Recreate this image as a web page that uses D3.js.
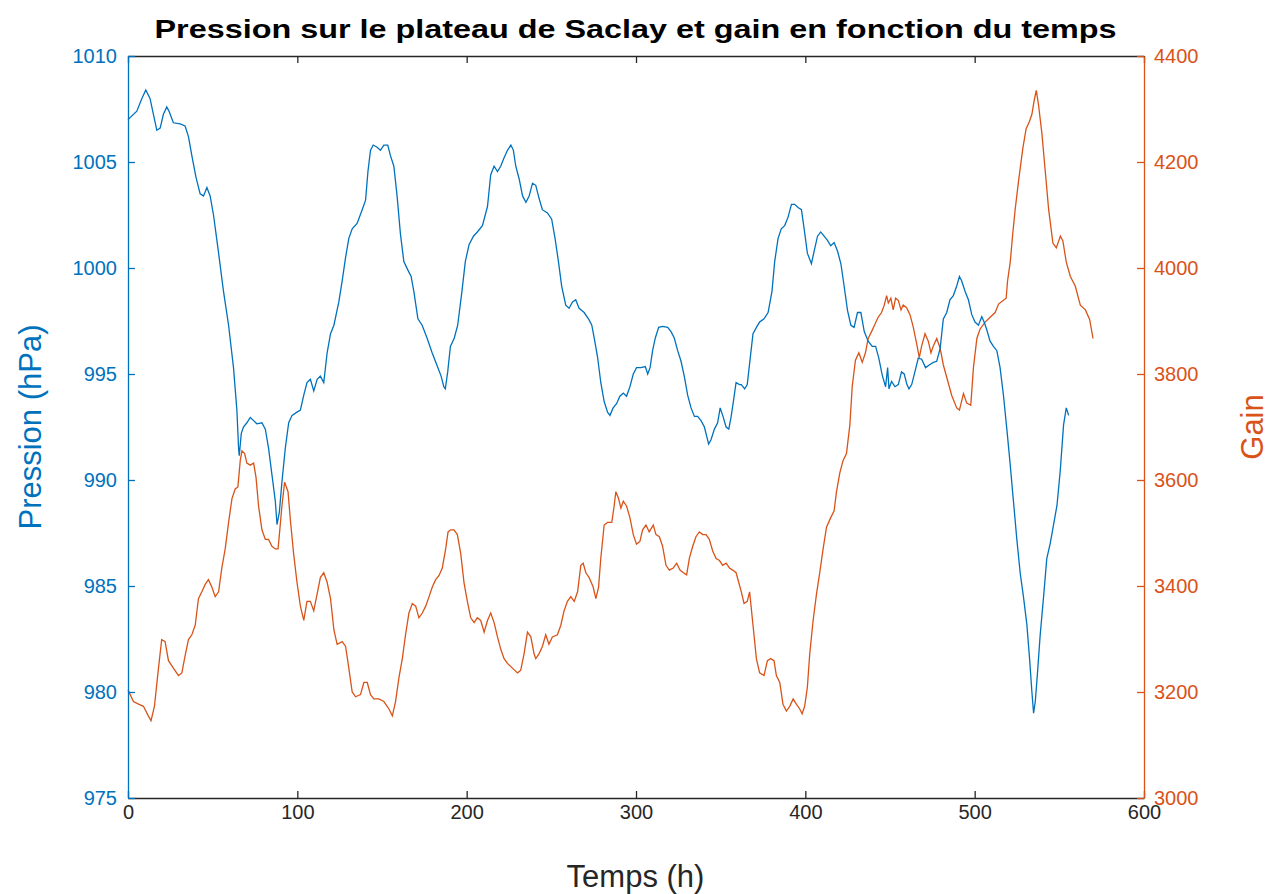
<!DOCTYPE html>
<html>
<head>
<meta charset="utf-8">
<script src="https://cdn.jsdelivr.net/npm/d3@7"></script>
<style>
  body { margin: 0; background: #fff; }
  text { font-family: "Liberation Sans", Arial, Helvetica, sans-serif; }
</style>
</head>
<body>
<div id="container"></div>
<script>
/* CONSTANTS AND GLOBALS */
const width = 1271,
  height = 894,
  margin = { top: 56, bottom: 96, left: 128, right: 128 };

const blue = "#0072BD",
  orange = "#D95319",
  dark = "#262626";

/* DATA */
const heuresTicks = [0, 100, 200, 300, 400, 500, 600];
const pressionTicks = [975, 980, 985, 990, 995, 1000, 1005, 1010];
const gainTicks = [3000, 3200, 3400, 3600, 3800, 4000, 4200, 4400];

// [temps (h), pression (hPa)]
const pression = [
  [0,1007.0],[5.2,1007.4],[8.2,1008.0],[10.5,1008.4],[13,1008.0],[17,1006.5],[19,1006.6],[20.9,1007.25],
  [22.9,1007.6],[24.2,1007.4],[26.8,1006.85],[30.8,1006.8],[33.7,1006.7],[35.7,1006.2],[37.7,1005.3],
  [40.1,1004.3],[42.6,1003.5],[44.6,1003.4],[46.6,1003.8],[48.5,1003.4],[50.5,1002.5],[53.5,1000.7],
  [56.4,998.9],[59.4,997.3],[62.3,995.3],[64.3,993.3],[65.3,991.5],[65.7,991.15],[66.9,992.2],[68.2,992.5],
  [70.2,992.7],[72.2,992.95],[74.2,992.8],[76.1,992.65],[79.1,992.7],[81.1,992.4],[83,991.5],[85,990.25],
  [87,989.0],[88,987.9],[89.4,988.5],[90.9,989.9],[92.9,991.5],[94.9,992.7],[96.9,993.05],[99.8,993.2],
  [101.8,993.3],[103.8,994.0],[105.7,994.6],[107.7,994.75],[109.7,994.2],[111.7,994.75],[113.6,994.9],
  [115.6,994.6],[117.6,996.0],
  [119.6,996.9],[121.6,997.3],[124.5,998.4],[126.5,999.4],[128.5,1000.5],[130.4,1001.4],[132.4,1001.85],
  [135.3,1002.1],[138.3,1002.75],[140.3,1003.2],[141.7,1004.55],[143.2,1005.55],[144.8,1005.8],[147.1,1005.7],
  [149.1,1005.55],[151.1,1005.8],[153.4,1005.8],[155,1005.3],[157,1004.8],[158.9,1003.4],[160.9,1001.6],
  [162.9,1000.3],[165.3,999.9],[167.2,999.6],[168.8,998.9],[171.2,997.6],[173.7,997.3],[176.6,996.7],
  [179.6,996.0],[182.5,995.4],[184.9,994.9],[186.5,994.4],[187.4,994.3],[188.8,995.1],[190.4,996.3],
  [192.7,996.7],[194.7,997.3],[197.2,998.9],[199.2,1000.3],[201.4,1001.1],[204,1001.5],[206.3,1001.7],
  [209.3,1002.0],[212.3,1002.9],[214.2,1004.4],[216.2,1004.8],[218.2,1004.55],[220.1,1004.8],[222.1,1005.2],
  [224.1,1005.55],[226.1,1005.8],[227.6,1005.55],[229,1004.8],[231,1004.2],[233,1003.4],[235,1003.1],
  [236.9,1003.4],[238.9,1004.0],
  [240.8,1003.9],[242.7,1003.3],[244.7,1002.75],[247.7,1002.6],[250.2,1002.3],[252.2,1001.4],[254.2,1000.3],
  [256.1,999.15],[258.5,998.25],[260.5,998.1],[262.5,998.4],[264.4,998.5],[266.4,998.1],[269.4,997.9],
  [272.3,997.55],[273.9,997.3],[275.3,996.7],[277.3,995.8],[279.2,994.6],[281.2,993.7],[283.2,993.2],
  [284.6,993.05],[286.5,993.4],[288.5,993.6],[290.5,993.95],[292.5,994.1],[294.4,993.95],[296.4,994.4],
  [298.4,995.0],[300.3,995.3],[302.9,995.3],[305.5,995.35],[306.9,995.0],[308.3,995.3],[309.8,996.1],
  [311.4,996.7],[313.4,997.2],[315.7,997.25],[318.7,997.2],[320.7,997.0],[322.6,996.7],[324.6,996.1],
  [326.6,995.6],[328.5,994.9],[330.5,994.0],[332.5,993.4],[334.5,993.0],[336.4,993.0],[338.4,992.8],
  [340.4,992.5],[341.8,992.05],[342.9,991.7],[344.3,991.9],[346.3,992.4],[348.2,992.7],[349.7,993.4],
  [351.2,993.05],[353.2,992.5],[354.8,992.4],[356.2,993.0],[357.5,993.7],[359.1,994.6],[361.1,994.5],
  [362.2,994.5],[364.2,994.3],[365.7,994.5],[367.1,995.5],[369.1,996.9],[371.1,997.2],[373,997.45],
  [375.6,997.6],[378,997.9],[380.3,998.9],[381.9,1000.3],[383.9,1001.4],[385.8,1001.85],[387.8,1002.0],
  [389.8,1002.4],[391.8,1003.0],[393.7,1003.0],[395.7,1002.85],[397.7,1002.75],[399.3,1001.85],[401.2,1000.7],
  [403.6,1000.2],[405.2,1000.8],[407.2,1001.5],[409.1,1001.7],[411.1,1001.5],[413.1,1001.3],[415,1001.05],
  [417,1001.2],[419,1000.8],[421,1000.2],[422.9,999.15],[424.9,998.0],[426.9,997.3],[428.8,997.2],
  [430.8,997.9],[432.8,997.9],[434.8,997.0],[437.1,996.55],[439.5,996.3],[441.5,996.3],[443.4,995.75],
  [445.4,994.95],[447.4,994.4],[448.6,995.3],[449.4,994.3],[450.9,994.65],[452.9,994.4],[454.9,994.5],
  [456.8,995.1],[458.4,995.0],[460,994.5],[461.2,994.3],[462.8,994.5],[464.7,995.1],[466.7,995.75],
  [468.7,995.7],[471,995.3],[473.6,995.45],[475.6,995.55],[477.6,995.6],[479.6,996.2],[481.5,997.6],
  [483.5,997.9],[485.4,998.5],[487.4,998.7],[489.4,999.15],[491,999.6],[492.3,999.4],[494.3,998.9],
  [496.3,998.5],[498.3,997.8],[500.2,997.45],[502.2,997.3],[504.2,997.7],[505.6,997.45],[507.1,997.1],
  [509.1,996.55],[511.1,996.3],[513.1,996.1],[515,995.3],[517,994.0],[519,992.4],[520.9,990.8],
  [522.9,989.0],[524.9,987.2],[526.9,985.6],[528.8,984.5],[530.8,983.2],[532.4,981.6],[533.8,980.0],
  [534.8,979.0],[535.8,979.55],[537.1,980.9],[538.7,982.7],[540.7,984.5],[542.6,986.3],[544.6,987.0],
  [546.6,987.9],[548.6,988.8],[550.5,990.4],[552.5,992.6],[554.1,993.4],[555.5,993.05]
];

// [temps (h), gain]
const gain = [
  [0,3204],[3.2,3182],[6.2,3177],[9.1,3173],[12,3155],[13.6,3146],[15.6,3173],[18,3245],[19.9,3299],
  [21.9,3295],[23.9,3259],[26.8,3245],[29.8,3231],[31.8,3236],[33.7,3268],[35.7,3299],[37.7,3308],
  [39.7,3326],[41.6,3376],[43.6,3389],[45.6,3403],[47.5,3412],[49.5,3398],[51.5,3380],[53.5,3389],
  [55.4,3434],[57.4,3470],[59.4,3520],[61.4,3565],[63.3,3583],[64.9,3587],[66.3,3637],[67.3,3655],
  [68.9,3650],[70.2,3632],[72.2,3628],[74.2,3632],[75.6,3605],[77.1,3551],[79.1,3506],[81.1,3488],
  [83,3488],[85,3475],[87,3470],[88.6,3470],[89.4,3497],[90.9,3551],[92.5,3596],[94.5,3578],[95.9,3524],
  [97.8,3461],[99.8,3407],[101.8,3362],[103.8,3335],[105.7,3371],[107.7,3371],[109.7,3353],[111.7,3385],
  [113.6,3416],[115.6,3425],[117.6,3407],
  [119.6,3376],[121.6,3317],[123.5,3290],[126.5,3295],[128.5,3286],[130.4,3245],[132.4,3200],[134.4,3191],
  [137.3,3195],[139.3,3218],[141.3,3218],[143.2,3195],[145.2,3187],[148.2,3187],[151.1,3182],[154.1,3168],
  [156.1,3155],[158,3182],[160,3227],[162,3263],[163.9,3308],[165.9,3349],[167.9,3367],[169.9,3362],
  [171.8,3340],[173.8,3349],[175.8,3362],[177.8,3380],[179.7,3398],[181.7,3412],[183.7,3420],[185.6,3434],
  [187.6,3470],[189,3502],[190.6,3506],[192.5,3506],[194.5,3497],[196.5,3461],[198.4,3407],[200.4,3371],
  [202.4,3340],[204.4,3331],[206.3,3340],[208.3,3335],[210.3,3313],[212.3,3335],[214.2,3349],[216.2,3331],
  [218.2,3304],[220.1,3281],[222.1,3263],[224.1,3254],[227,3245],[230,3236],[231.9,3241],[233.9,3272],
  [235.9,3313],[237.9,3304],[239.8,3272],
  [240.8,3263],[242.7,3272],[244.7,3286],[246.7,3308],[248.6,3290],[250.6,3304],[253.6,3308],[255.6,3326],
  [257.5,3353],[259.5,3371],[261.5,3380],[263.5,3371],[265.5,3389],[267.4,3439],[268.8,3443],[270.4,3425],
  [272.3,3416],[274.7,3398],[276.3,3376],[277.9,3398],[279.2,3452],[281.2,3515],[283.2,3520],[285.7,3520],
  [287.1,3551],[288.1,3578],[289.7,3565],[291.1,3547],[292.5,3560],[294.4,3551],[296.4,3529],[298.4,3497],
  [300.3,3479],[302.3,3484],[303.9,3506],[305.9,3515],[307.8,3502],[310.2,3515],[311.8,3497],[313.8,3493],
  [315.7,3475],[317.7,3439],[319.7,3430],[322,3434],[324,3443],[326,3430],[328,3425],[329.9,3421],
  [331.5,3452],[333.5,3475],[335.4,3493],[337.4,3502],[339.4,3497],[341.4,3497],[343.3,3488],[345.3,3466],
  [347.3,3452],[349.3,3448],[351.2,3439],[353.2,3443],[355.2,3434],[357.1,3430],[359.1,3425],
  [362.2,3389],[363.8,3367],[365.7,3371],[367.1,3389],[369.1,3326],[371.1,3263],[373,3236],[375.6,3231],
  [377.6,3259],[379.5,3263],[381.5,3259],[382.9,3231],[384.9,3218],[386.8,3177],[388.8,3164],[390.8,3173],
  [392.8,3187],[394.7,3177],[396.7,3168],[398.1,3159],[399.6,3173],[401.2,3209],[402.6,3272],[404.6,3335],
  [406.6,3385],[408.5,3425],[410.5,3470],[412.5,3511],[415,3529],[417,3542],[418.4,3578],[420.4,3614],
  [422.3,3637],[424.3,3650],[426.3,3704],[427.7,3777],[429.6,3826],[431.6,3840],[433.6,3822],[435.5,3840],
  [437.1,3867],[439.1,3880],[441.1,3894],[443,3907],[445,3916],[446.6,3930],[448,3948],[449,3934],
  [450.5,3943],[451.9,3921],[453.3,3943],[454.9,3939],[456.5,3921],[457.8,3930],[459.8,3925],[461.8,3912],
  [463.7,3889],[465.7,3858],[467.3,3831],[468.7,3853],[470.7,3876],[472.6,3862],[474.2,3840],[475.6,3853],
  [477.6,3867],[479.6,3849],[481.5,3817],
  [486.5,3759],[489.4,3736],[491,3732],[493.4,3763],[495.3,3745],[497.7,3741],[499.3,3813],[501.3,3867],
  [503.2,3885],[506.2,3898],[509.1,3907],[512.1,3916],[514.1,3932],[517,3939],[518.6,3943],[519.4,3975],
  [521,4011],[522.5,4065],[523.9,4110],[525.9,4164],[528.5,4227],[530.4,4263],[532.4,4277],[533.8,4290],
  [535.2,4317],[536.4,4335],[537.7,4308],[539.7,4254],[541.7,4182],[543.7,4110],[546.2,4047],[548.2,4038],
  [550.6,4060],[552.1,4051],[554.1,4011],[556.5,3984],[559.4,3966],[562.4,3930],[565.4,3921],[567.9,3903],
  [569.9,3867]
];

/* SVG */
const svg = d3.select("#container")
  .append("svg")
  .attr("width", width)
  .attr("height", height)
  .style("background", "#fff");

/* SCALES */
const xScale = d3.scaleLinear()
  .domain([0, 600])
  .range([margin.left, width - margin.right + 1]);

const yPression = d3.scaleLinear()
  .domain([975, 1010])
  .range([height - margin.bottom, margin.top]);

const yGain = d3.scaleLinear()
  .domain([3000, 4400])
  .range([height - margin.bottom, margin.top]);

/* LINES */
const linePression = d3.line()
  .x(d => xScale(d[0]))
  .y(d => yPression(d[1]));

const lineGain = d3.line()
  .x(d => xScale(d[0]))
  .y(d => yGain(d[1]));

svg.append("path")
  .datum(gain)
  .attr("d", lineGain)
  .attr("fill", "none")
  .attr("stroke", orange)
  .attr("stroke-width", 1.3);

svg.append("path")
  .datum(pression)
  .attr("d", linePression)
  .attr("fill", "none")
  .attr("stroke", blue)
  .attr("stroke-width", 1.3);

/* AXES */
const styleAxis = (g, color, size) => {
  g.attr("font-family", null).attr("font-size", null);
  g.select(".domain").attr("stroke", color).attr("stroke-width", 1.3);
  g.selectAll(".tick line").attr("stroke", color).attr("stroke-width", 1.3);
  g.selectAll(".tick text").attr("fill", color).style("font-size", size + "px");
};

const tickFont = 20;
const fmt = d3.format("d");

svg.append("g")
  .attr("transform", `translate(0,${height - margin.bottom})`)
  .call(d3.axisBottom(xScale).tickValues(heuresTicks).tickFormat(fmt)
    .tickSize(-7).tickSizeOuter(0).tickPadding(7))
  .call(g => styleAxis(g, dark, tickFont));

svg.append("g")
  .attr("transform", `translate(0,${margin.top})`)
  .call(d3.axisTop(xScale).tickValues(heuresTicks).tickFormat(() => "")
    .tickSize(-7).tickSizeOuter(0))
  .call(g => styleAxis(g, dark, tickFont));

svg.append("g")
  .attr("transform", `translate(${margin.left},0)`)
  .call(d3.axisLeft(yPression).tickValues(pressionTicks).tickFormat(fmt)
    .tickSize(-7).tickSizeOuter(0).tickPadding(11))
  .call(g => styleAxis(g, blue, tickFont));

svg.append("g")
  .attr("transform", `translate(${width - margin.right + 1},0)`)
  .call(d3.axisRight(yGain).tickValues(gainTicks).tickFormat(fmt)
    .tickSize(-7).tickSizeOuter(0).tickPadding(10))
  .call(g => styleAxis(g, orange, tickFont));

/* TEXT */
svg.append("text")
  .attr("x", width / 2)
  .attr("y", 38)
  .attr("text-anchor", "middle")
  .attr("font-weight", "bold")
  .attr("font-size", 25)
  .attr("textLength", 962)
  .attr("lengthAdjust", "spacingAndGlyphs")
  .attr("fill", "#000")
  .text("Pression sur le plateau de Saclay et gain en fonction du temps");

svg.append("text")
  .attr("x", (margin.left + width - margin.right) / 2)
  .attr("y", 887)
  .attr("text-anchor", "middle")
  .attr("font-size", 31)
  .attr("fill", dark)
  .text("Temps (h)");

svg.append("text")
  .attr("transform", `translate(41,${(margin.top + height - margin.bottom) / 2}) rotate(-90)`)
  .attr("text-anchor", "middle")
  .attr("font-size", 31)
  .attr("fill", blue)
  .text("Pression (hPa)");

svg.append("text")
  .attr("transform", `translate(1263,${(margin.top + height - margin.bottom) / 2}) rotate(-90)`)
  .attr("text-anchor", "middle")
  .attr("font-size", 31)
  .attr("fill", orange)
  .text("Gain");
</script>
</body>
</html>
